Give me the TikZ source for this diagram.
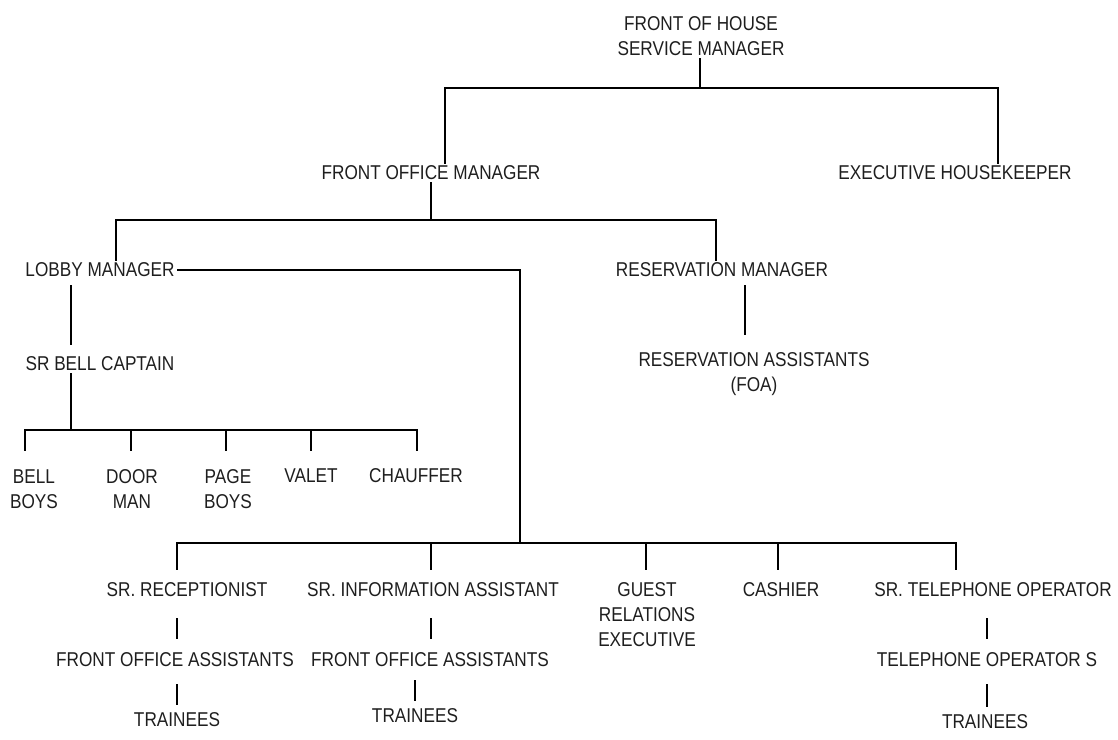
\documentclass[tikz,border=0pt]{standalone}
\usepackage{fontspec}
\setmainfont{Liberation Sans}[FakeStretch=0.86]
\definecolor{txt}{HTML}{1E1E1E}
\begin{document}
\begin{tikzpicture}[x=1pt,y=-1pt,
  every node/.style={inner sep=3pt, text=txt, align=center,
    font=\fontsize{20}{25}\selectfont},
  link/.style={line width=2pt, line cap=rect},
  bar/.style={line width=1.5pt}]
\useasboundingbox (0,0) rectangle (1118,739);

% ---- positions of the posts ----
\node (fohsm) at (701,36) {FRONT OF HOUSE\\SERVICE MANAGER};
\node (fom)  at (431,173) {FRONT OFFICE MANAGER};
\node (exh)  at (955,173) {EXECUTIVE HOUSEKEEPER};
\node (lob)  at (100,270) {LOBBY MANAGER};
\node (res)  at (722,270) {RESERVATION MANAGER};
\node (resa) at (754,374) {RESERVATION ASSISTANTS\\(FOA)};
\node (bell) at (100,364) {SR BELL CAPTAIN};
\node (bb)   at (34,489)  {BELL\\BOYS};
\node (dm)   at (132,489) {DOOR\\MAN};
\node (pb)   at (228,489) {PAGE\\BOYS};
\node (val)  at (311,476) {VALET};
\node (cha)  at (416,476) {CHAUFFER};
\node (srr)  at (187,590) {SR. RECEPTIONIST};
\node (foa1) at (175,660) {FRONT OFFICE ASSISTANTS};
\node (tr1)  at (177,720) {TRAINEES};
\node (sri)  at (433,590) {SR. INFORMATION ASSISTANT};
\node (foa2) at (430,660) {FRONT OFFICE ASSISTANTS};
\node (tr2)  at (415,716) {TRAINEES};
\node (gre)  at (647,615) {GUEST\\RELATIONS\\EXECUTIVE};
\node (cas)  at (781,590) {CASHIER};
\node (srt)  at (993,590) {SR. TELEPHONE OPERATOR};
\node (tel)  at (987,660) {TELEPHONE OPERATOR S};
\node (tr3)  at (985,722) {TRAINEES};

% ---- junction points of the connector lines ----
\coordinate (t0) at (700,88);
\coordinate (tL) at (445,88);
\coordinate (tR) at (998,88);
\coordinate (m0) at (431,220);
\coordinate (mL) at (116,220);
\coordinate (mR) at (716,220);
\coordinate (lc) at (520,270);
\coordinate (lb) at (520,543);
\coordinate (lv) at (71,300);
\coordinate (rv) at (745,300);
\coordinate (b0) at (71,430);
\coordinate (b1) at (25,430);
\coordinate (b2) at (131,430);
\coordinate (b3) at (226,430);
\coordinate (b4) at (311,430);
\coordinate (b5) at (417,430);
\coordinate (s1) at (177,543);
\coordinate (s2) at (431,543);
\coordinate (s3) at (646,543);
\coordinate (s4) at (778,543);
\coordinate (s5) at (956,543);

% ---- upper levels ----
\draw[link] (fohsm.south -| t0) -- (t0);
\draw[link] (tL |- fom.north) -- (tL) -- (tR) -- (tR |- exh.north);
\draw[link] (fom.south) -- (m0);
\draw[link] (mL |- lob.north) -- (mL) -- (mR) -- (mR |- res.north);
\draw[link] (lob.east) -- (lc) -- (lb);
\draw[link, shorten <=6pt, shorten >=15pt] (rv |- res.south) -- (rv |- resa.north);

% ---- bell desk ----
\draw[link, shorten <=6pt, shorten >=10pt] (lv |- lob.south) -- (lv |- bell.north);
\draw[link] (bell.south -| b0) -- (b0);
\draw[link] (b1) -- (b5);
\foreach \c/\n in {b1/bb, b2/dm, b3/pb, b4/val, b5/cha}
  \draw[link, shorten >=16pt] (\c) -- (\c |- \n.north);

% ---- front desk ----
\draw[link] (s1) -- (s5);
\foreach \c/\n in {s1/srr, s2/sri, s3/gre, s4/cas, s5/srt}
  \draw[link, shorten >=11pt] (\c) -- (\c |- \n.north);

% ---- short links inside the columns ----
\draw[bar, shorten <=18pt, shorten >=11pt] (s1 |- srr.south) -- (s1 |- foa1.north);
\draw[bar, shorten <=14pt, shorten >=5pt] (s1 |- foa1.south) -- (s1 |- tr1.north);
\draw[bar, shorten <=18pt, shorten >=11pt] (s2 |- sri.south) -- (s2 |- foa2.north);
\draw[bar, shorten <=10pt, shorten >=5pt] (tr2.north |- foa2.south) -- (tr2.north);
\draw[bar, shorten <=18pt, shorten >=11pt] (tel.north |- srt.south) -- (tel.north);
\draw[bar, shorten <=14pt, shorten >=5pt] (tel.south) -- (tel.south |- tr3.north);
\end{tikzpicture}
\end{document}
